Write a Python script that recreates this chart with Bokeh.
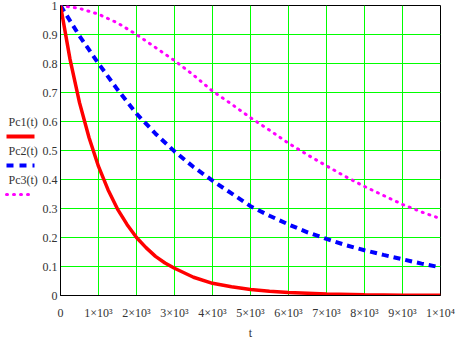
from bokeh.plotting import figure
from bokeh.models import Range1d, FixedTicker, CustomJSTickFormatter
from bokeh.core.properties import value
from bokeh.embed import file_html
from bokeh.resources import INLINE

# ---- data ----
t1 = [0, 250, 500, 750, 1000, 1250, 1500, 1750, 2000, 2250, 2500, 2750, 3000,
      3500, 4000, 4500, 5000, 5500, 6000, 7000, 8000, 9000, 10000]
pc1 = [1.0, 0.815, 0.665, 0.545, 0.445, 0.365, 0.298, 0.245, 0.2, 0.165, 0.135,
       0.112, 0.094, 0.063, 0.042, 0.03, 0.021, 0.015, 0.01, 0.005, 0.0025,
       0.0012, 0.0006]

t2 = [0, 500, 1000, 1500, 2000, 2500, 3000, 3500, 4000, 4500, 5000, 5500,
      6000, 6500, 7000, 7500, 8000, 8500, 9000, 9500, 10000]
pc2 = [1.0, 0.895, 0.8, 0.71, 0.627, 0.558, 0.497, 0.443, 0.396, 0.352, 0.308,
       0.275, 0.245, 0.218, 0.195, 0.174, 0.156, 0.14, 0.125, 0.11, 0.097]
pc3 = [1.0, 0.99, 0.97, 0.94, 0.9, 0.855, 0.81, 0.76, 0.705, 0.66, 0.613,
       0.57, 0.525, 0.485, 0.447, 0.41, 0.376, 0.345, 0.314, 0.288, 0.265]

series_names = ["Pc1(t)", "Pc2(t)", "Pc3(t)"]
legend_y = [0.6, 0.5, 0.4]

x_ticks = [0, 1000, 2000, 3000, 4000, 5000, 6000, 7000, 8000, 9000, 10000]
x_tick_labels = ["0", "1×10³", "2×10³", "3×10³", "4×10³", "5×10³", "6×10³",
                 "7×10³", "8×10³", "9×10³", "1×10⁴"]
y_ticks = [0, 0.1, 0.2, 0.3, 0.4, 0.5, 0.6, 0.7, 0.8, 0.9, 1.0]

FONT = "Liberation Serif"
TXT = "#333333"

W, H = 474, 359
ML, MR, MT, MB = 60, 34, 5, 64
frame_w = W - ML - MR
frame_h = H - MT - MB

p = figure(width=W, height=H, output_backend="svg", toolbar_location=None,
           x_range=Range1d(0, 10000), y_range=Range1d(0, 1),
           min_border_left=ML, min_border_right=MR, min_border_top=MT,
           min_border_bottom=MB)
p.background_fill_color = "white"
p.border_fill_color = "white"
p.outline_line_color = "black"
p.outline_line_width = 1

# grid
p.xgrid.ticker = FixedTicker(ticks=x_ticks)
p.ygrid.ticker = FixedTicker(ticks=y_ticks)
for g in (p.xgrid, p.ygrid):
    g.grid_line_color = "#00FF00"
    g.grid_line_width = 1

# axes
p.xaxis.ticker = FixedTicker(ticks=x_ticks)
p.xaxis.major_label_overrides = {t: s for t, s in zip(x_ticks, x_tick_labels)}
p.yaxis.ticker = FixedTicker(ticks=y_ticks)
p.yaxis.formatter = CustomJSTickFormatter(code="return String(tick)")
for ax in (p.xaxis, p.yaxis):
    ax.axis_line_color = "black"
    ax.axis_line_width = 1
    ax.major_tick_out = 0
    ax.major_tick_in = 0
    ax.minor_tick_out = 0
    ax.minor_tick_in = 0
    ax.major_label_text_font = FONT
    ax.major_label_text_font_size = "12px"
    ax.major_label_text_color = TXT
p.xaxis.major_label_standoff = 10
p.yaxis.major_label_standoff = 3
p.xaxis.axis_label = "t"
p.xaxis.axis_label_text_font = FONT
p.xaxis.axis_label_text_font_size = "12px"
p.xaxis.axis_label_text_font_style = "normal"
p.xaxis.axis_label_text_color = TXT
p.xaxis.axis_label_standoff = 3

# curves
p.line(t2, pc3, line_color="#FF00FF", line_width=3, line_dash="1 6",
       line_cap="round")
p.line(t2, pc2, line_color="#0000FF", line_width=4, line_dash="7 5")
p.line(t1, pc1, line_color="#FF0000", line_width=3.5)

# Mathcad-style legend on the left of the y axis (pixel offsets -> data units)
def px_to_x(px_from_frame_left):
    return px_from_frame_left / frame_w * 10000

text_x = [px_to_x(-52)] * 3
p.text(x=text_x, y=legend_y, text=series_names, text_font=value(FONT),
       text_font_size="12px", text_color=TXT, text_baseline="middle",
       text_align="left", level="overlay")
styles = [dict(line_color="#FF0000", line_width=4),
          dict(line_color="#0000FF", line_width=4, line_dash="7 6"),
          dict(line_color="#FF00FF", line_width=3, line_dash="1 6",
               line_cap="round")]
off = 15 / frame_h
for yv, st in zip(legend_y, styles):
    p.line([px_to_x(-54), px_to_x(-26)], [yv - off, yv - off], level="overlay",
           **st)

open("out.html", "w").write(file_html(p, INLINE))
